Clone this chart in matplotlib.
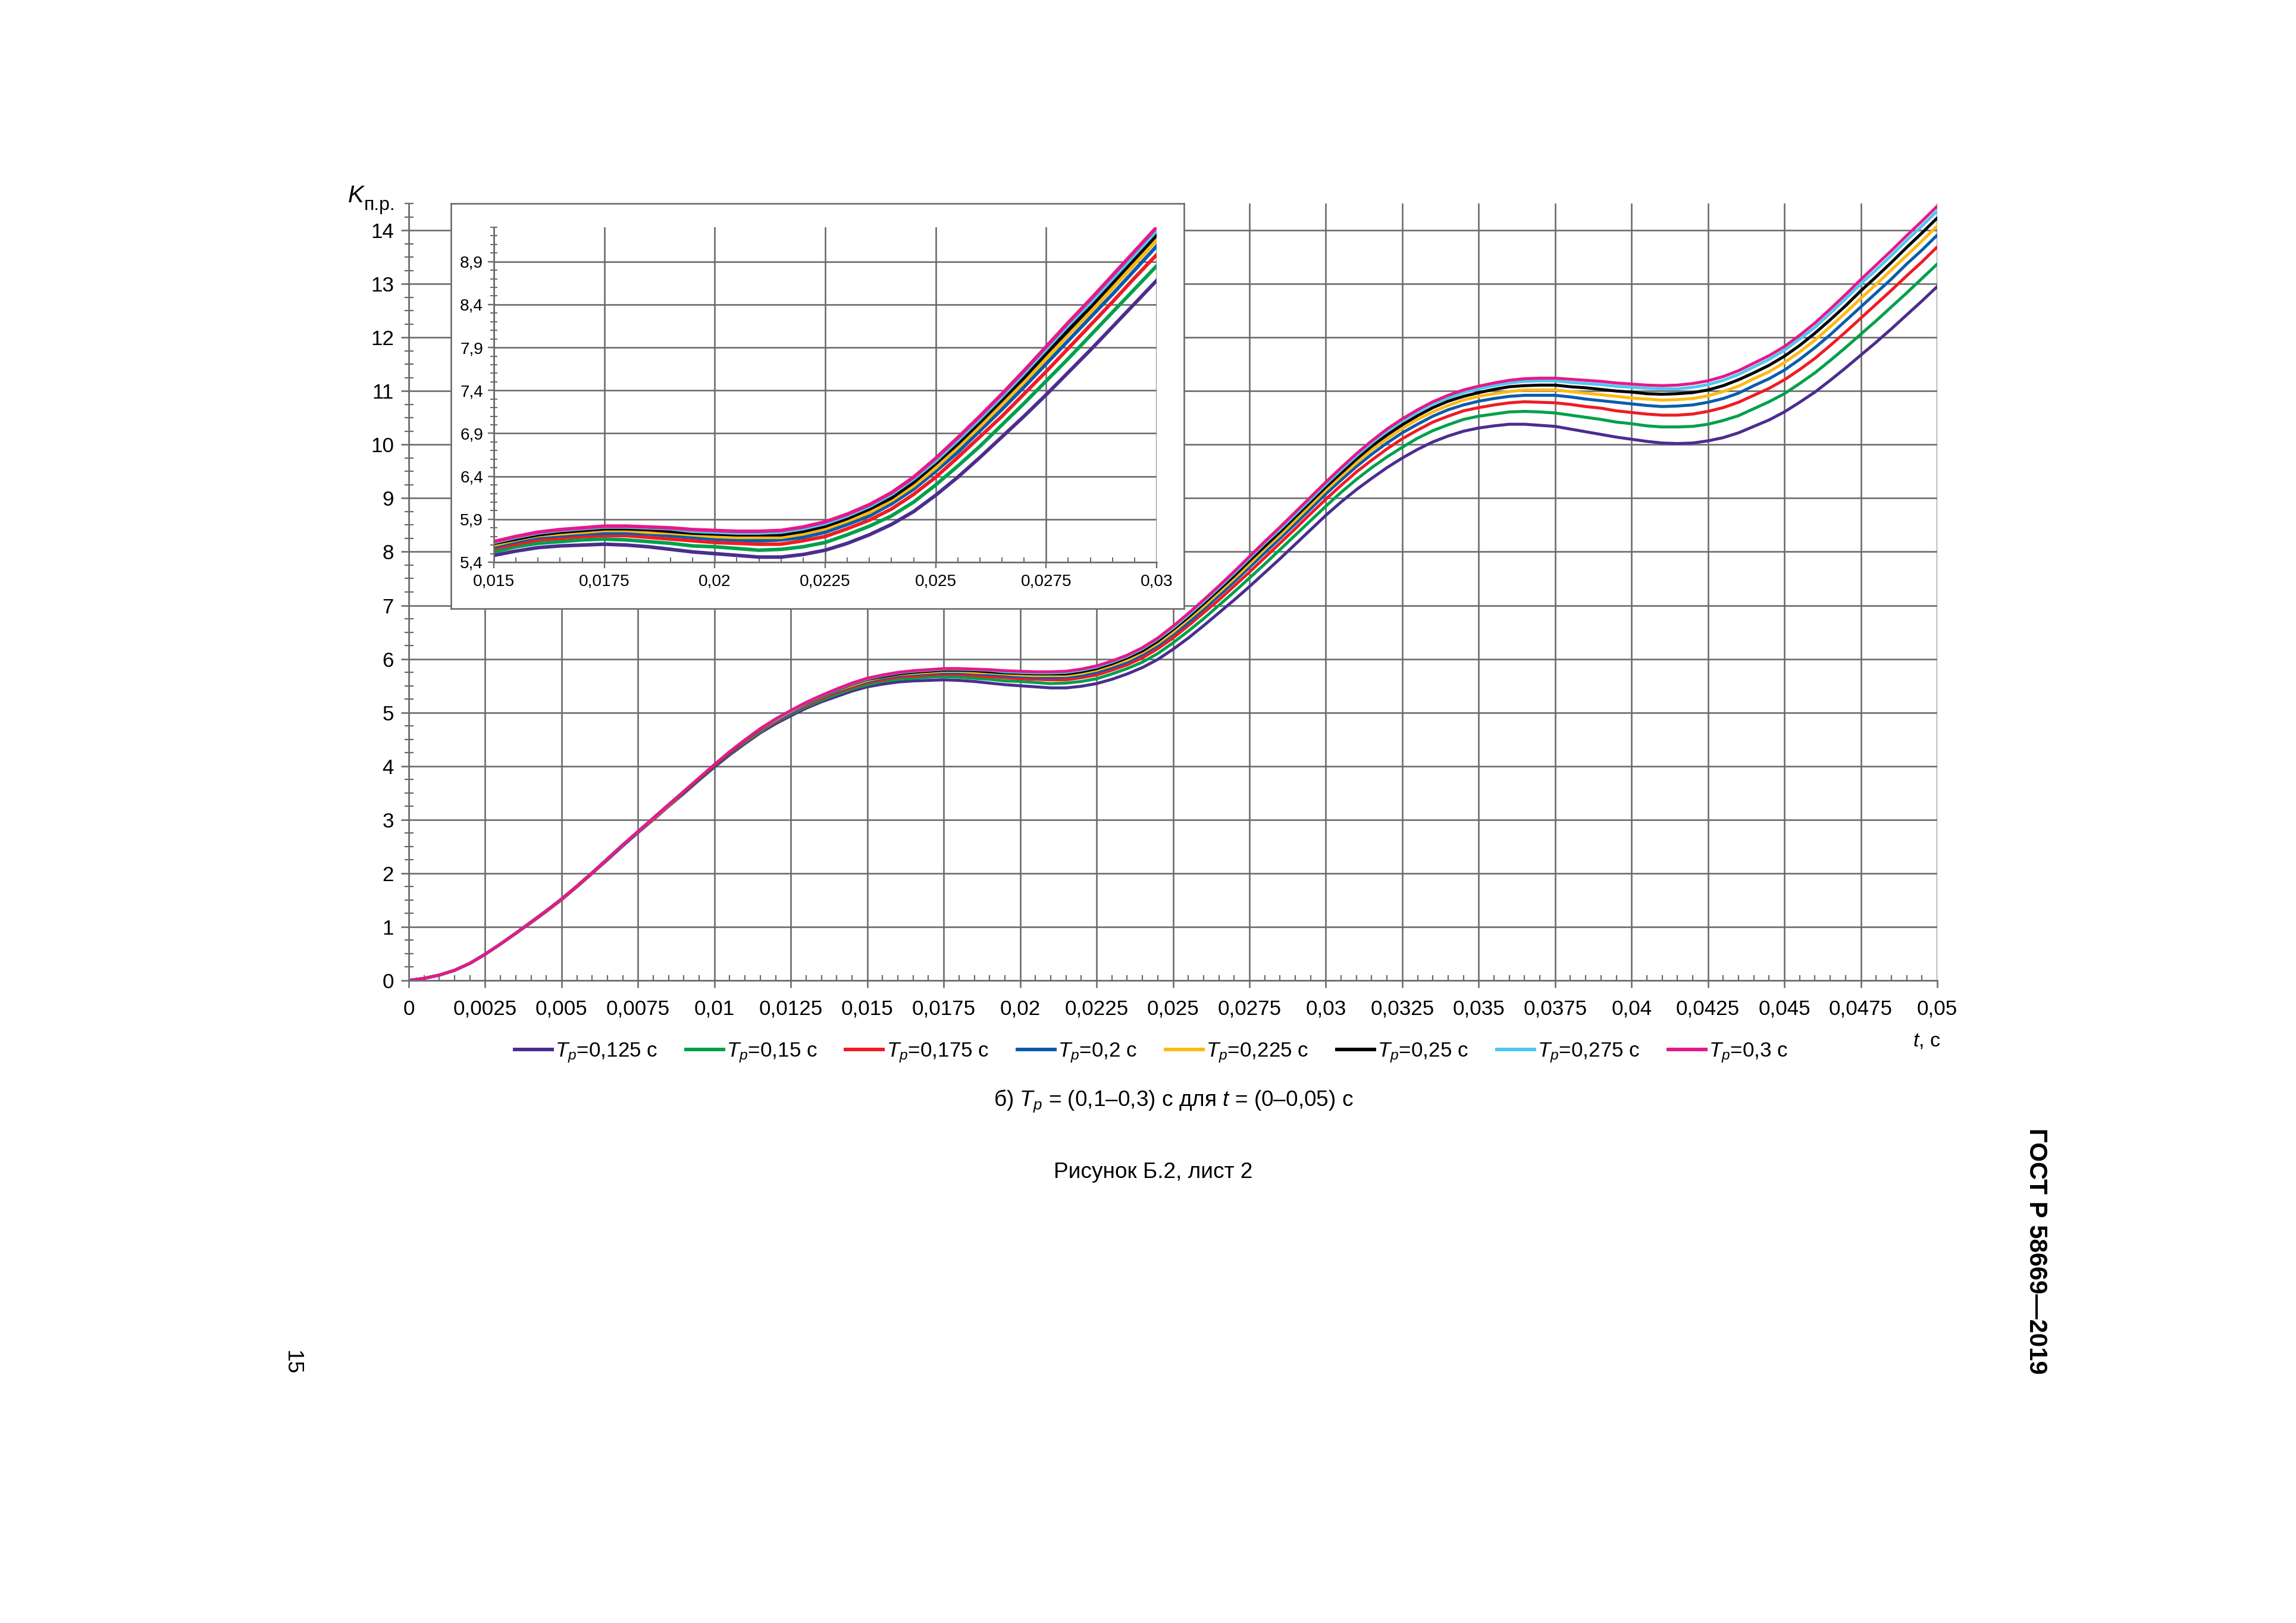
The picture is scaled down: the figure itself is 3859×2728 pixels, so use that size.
import numpy as np
import matplotlib
matplotlib.use("Agg")
import matplotlib.pyplot as plt
from matplotlib.ticker import MultipleLocator, FixedLocator, FuncFormatter

plt.rcParams['font.family'] = ['Liberation Sans', 'DejaVu Sans']
plt.rcParams['mathtext.fontset'] = 'custom'
plt.rcParams['mathtext.rm'] = 'Liberation Sans'
plt.rcParams['mathtext.it'] = 'Liberation Sans:italic'
plt.rcParams['mathtext.bf'] = 'Liberation Sans:bold'

# time, s (read every 0.0005 s)
t = np.linspace(0, 0.05, 101)

k_0125 = [0, .04, .10, .19, .32, .49, .68, .88, 1.08, 1.29,
          1.51, 1.75, 2.00, 2.25, 2.51, 2.76, 3.00, 3.25, 3.49, 3.74,
          3.98, 4.21, 4.42, 4.62, 4.79, 4.94, 5.08, 5.20, 5.30, 5.40,
          5.48, 5.53, 5.57, 5.59, 5.60, 5.61, 5.60, 5.58, 5.55, 5.52,
          5.50, 5.48, 5.46, 5.46, 5.49, 5.54, 5.62, 5.72, 5.84, 5.99,
          6.18, 6.39, 6.62, 6.86, 7.10, 7.35, 7.61, 7.87, 8.14, 8.41,
          8.68, 8.93, 9.16, 9.37, 9.57, 9.75, 9.91, 10.05, 10.16, 10.25,
          10.31, 10.35, 10.38, 10.38, 10.36, 10.34, 10.29, 10.24, 10.19, 10.14,
          10.10, 10.06, 10.03, 10.02, 10.03, 10.07, 10.13, 10.22, 10.34, 10.46,
          10.61, 10.79, 10.98, 11.20, 11.43, 11.67, 11.91, 12.16, 12.42, 12.68,
          12.95]
k_015 = [0, .04, .10, .19, .32, .49, .68, .88, 1.08, 1.29,
         1.51, 1.75, 2.00, 2.26, 2.52, 2.77, 3.01, 3.26, 3.50, 3.75,
         3.99, 4.23, 4.44, 4.64, 4.82, 4.97, 5.11, 5.23, 5.34, 5.44,
         5.52, 5.58, 5.62, 5.64, 5.66, 5.67, 5.66, 5.64, 5.62, 5.59,
         5.58, 5.56, 5.54, 5.55, 5.58, 5.63, 5.72, 5.82, 5.94, 6.10,
         6.30, 6.52, 6.75, 7.00, 7.25, 7.51, 7.77, 8.04, 8.31, 8.58,
         8.85, 9.11, 9.35, 9.57, 9.77, 9.95, 10.12, 10.26, 10.37, 10.47,
         10.53, 10.57, 10.61, 10.62, 10.61, 10.59, 10.55, 10.51, 10.47, 10.42,
         10.39, 10.35, 10.33, 10.33, 10.34, 10.38, 10.45, 10.54, 10.67, 10.80,
         10.95, 11.14, 11.34, 11.57, 11.81, 12.06, 12.31, 12.57, 12.83, 13.10,
         13.37]
k_0175 = [0, .04, .10, .19, .32, .49, .68, .88, 1.08, 1.29,
          1.51, 1.75, 2.00, 2.26, 2.52, 2.77, 3.01, 3.26, 3.51, 3.76,
          4.00, 4.24, 4.45, 4.66, 4.83, 4.99, 5.13, 5.26, 5.37, 5.47,
          5.56, 5.61, 5.66, 5.68, 5.70, 5.71, 5.71, 5.69, 5.67, 5.65,
          5.63, 5.62, 5.61, 5.61, 5.65, 5.70, 5.79, 5.89, 6.02, 6.19,
          6.39, 6.62, 6.86, 7.10, 7.36, 7.62, 7.89, 8.16, 8.43, 8.71,
          8.98, 9.24, 9.49, 9.71, 9.92, 10.11, 10.27, 10.42, 10.53, 10.63,
          10.69, 10.74, 10.78, 10.80, 10.79, 10.78, 10.75, 10.71, 10.68, 10.63,
          10.60, 10.57, 10.55, 10.55, 10.57, 10.62, 10.69, 10.79, 10.92, 11.05,
          11.21, 11.40, 11.61, 11.85, 12.10, 12.36, 12.62, 12.88, 13.15, 13.41,
          13.69]
k_02 = [0, .04, .10, .19, .32, .49, .68, .88, 1.09, 1.30,
        1.52, 1.76, 2.01, 2.26, 2.52, 2.77, 3.02, 3.27, 3.52, 3.77,
        4.01, 4.25, 4.46, 4.67, 4.85, 5.00, 5.15, 5.28, 5.39, 5.50,
        5.58, 5.64, 5.69, 5.71, 5.73, 5.74, 5.74, 5.73, 5.71, 5.69,
        5.67, 5.66, 5.65, 5.66, 5.69, 5.75, 5.84, 5.94, 6.08, 6.25,
        6.46, 6.68, 6.93, 7.18, 7.44, 7.71, 7.98, 8.25, 8.52, 8.80,
        9.08, 9.34, 9.59, 9.82, 10.03, 10.22, 10.38, 10.53, 10.65, 10.74,
        10.81, 10.86, 10.90, 10.92, 10.92, 10.92, 10.89, 10.85, 10.82, 10.79,
        10.76, 10.73, 10.71, 10.72, 10.74, 10.79, 10.86, 10.96, 11.10, 11.23,
        11.39, 11.59, 11.81, 12.05, 12.31, 12.57, 12.83, 13.09, 13.37, 13.63,
        13.91]
k_0225 = [0, .04, .10, .19, .32, .49, .68, .88, 1.09, 1.30,
          1.52, 1.76, 2.01, 2.27, 2.53, 2.78, 3.02, 3.27, 3.52, 3.77,
          4.02, 4.26, 4.47, 4.68, 4.86, 5.02, 5.16, 5.29, 5.41, 5.51,
          5.60, 5.66, 5.71, 5.73, 5.75, 5.77, 5.77, 5.75, 5.74, 5.72,
          5.70, 5.69, 5.69, 5.69, 5.73, 5.79, 5.88, 5.98, 6.12, 6.29,
          6.50, 6.74, 6.98, 7.24, 7.50, 7.77, 8.05, 8.31, 8.59, 8.87,
          9.15, 9.41, 9.66, 9.90, 10.11, 10.30, 10.47, 10.61, 10.73, 10.83,
          10.90, 10.95, 10.99, 11.02, 11.02, 11.02, 10.99, 10.96, 10.93, 10.90,
          10.87, 10.85, 10.83, 10.84, 10.86, 10.91, 10.99, 11.09, 11.23, 11.36,
          11.53, 11.73, 11.95, 12.20, 12.46, 12.73, 12.99, 13.26, 13.53, 13.80,
          14.08]
k_025 = [0, .04, .10, .19, .32, .49, .68, .88, 1.09, 1.30,
         1.52, 1.76, 2.01, 2.27, 2.53, 2.78, 3.03, 3.28, 3.52, 3.77,
         4.02, 4.26, 4.48, 4.69, 4.87, 5.03, 5.17, 5.30, 5.42, 5.53,
         5.62, 5.67, 5.72, 5.75, 5.77, 5.79, 5.79, 5.78, 5.76, 5.74,
         5.73, 5.72, 5.72, 5.72, 5.76, 5.82, 5.91, 6.02, 6.15, 6.33,
         6.55, 6.78, 7.03, 7.29, 7.55, 7.83, 8.10, 8.37, 8.65, 8.93,
         9.21, 9.47, 9.73, 9.97, 10.18, 10.37, 10.54, 10.69, 10.81, 10.90,
         10.97, 11.03, 11.08, 11.10, 11.11, 11.11, 11.08, 11.06, 11.03, 11.00,
         10.98, 10.95, 10.94, 10.95, 10.97, 11.02, 11.10, 11.21, 11.34, 11.48,
         11.65, 11.85, 12.08, 12.33, 12.59, 12.87, 13.13, 13.40, 13.68, 13.95,
         14.23]
k_0275 = [0, .04, .10, .19, .32, .49, .68, .88, 1.09, 1.30,
          1.52, 1.76, 2.01, 2.27, 2.53, 2.78, 3.03, 3.28, 3.53, 3.78,
          4.03, 4.27, 4.49, 4.70, 4.87, 5.03, 5.18, 5.31, 5.43, 5.54,
          5.63, 5.69, 5.74, 5.77, 5.79, 5.81, 5.81, 5.80, 5.79, 5.76,
          5.75, 5.74, 5.74, 5.75, 5.79, 5.85, 5.94, 6.05, 6.19, 6.37,
          6.58, 6.82, 7.07, 7.33, 7.60, 7.88, 8.16, 8.42, 8.70, 8.98,
          9.26, 9.53, 9.79, 10.03, 10.25, 10.44, 10.61, 10.76, 10.87, 10.97,
          11.04, 11.10, 11.15, 11.18, 11.19, 11.19, 11.16, 11.14, 11.12, 11.09,
          11.07, 11.05, 11.04, 11.04, 11.07, 11.12, 11.20, 11.31, 11.45, 11.59,
          11.76, 11.97, 12.19, 12.45, 12.72, 13.00, 13.26, 13.53, 13.81, 14.08,
          14.36]
k_03 = [0, .04, .10, .19, .32, .49, .68, .88, 1.09, 1.30,
        1.52, 1.76, 2.01, 2.27, 2.53, 2.78, 3.03, 3.28, 3.53, 3.78,
        4.03, 4.27, 4.49, 4.70, 4.88, 5.04, 5.19, 5.32, 5.44, 5.55,
        5.64, 5.70, 5.75, 5.78, 5.80, 5.82, 5.82, 5.81, 5.80, 5.78,
        5.77, 5.76, 5.76, 5.77, 5.81, 5.87, 5.96, 6.07, 6.21, 6.39,
        6.61, 6.85, 7.10, 7.36, 7.63, 7.91, 8.19, 8.46, 8.74, 9.02,
        9.30, 9.57, 9.83, 10.07, 10.29, 10.48, 10.65, 10.80, 10.92, 11.02,
        11.09, 11.15, 11.20, 11.23, 11.24, 11.24, 11.22, 11.20, 11.18, 11.15,
        11.13, 11.11, 11.10, 11.11, 11.14, 11.19, 11.27, 11.38, 11.52, 11.66,
        11.83, 12.04, 12.27, 12.53, 12.80, 13.08, 13.35, 13.62, 13.90, 14.17,
        14.45]

series = [k_0125, k_015, k_0175, k_02, k_0225, k_025, k_0275, k_03]
labels = ['0,125', '0,15', '0,175', '0,2', '0,225', '0,25', '0,275', '0,3']
colors = ['#4b2d8f', '#00a04b', '#ee1c24', '#0b5cad', '#fdb913', '#000000', '#4dc8f0', '#e5198a']

W, H = 3859, 2728
DPI = 100
PT = 72.0 / DPI  # points per pixel
GRID = '#6a6a6a'


def box(x0, y0, x1, y1):
    # pixel box (top-left origin) -> figure fraction rect
    return [x0 / W, 1 - y1 / H, (x1 - x0) / W, (y1 - y0) / H]


def comma(v, pos=None):
    return f"{v:g}".replace('.', ',')


fig = plt.figure(figsize=(W / DPI, H / DPI), dpi=DPI)

# main chart
ax = fig.add_axes(box(687, 342, 3256, 1648))
ax.set_xlim(0, 0.05)
ax.set_ylim(0, 14.5)
for k, c in zip(series, colors):
    ax.plot(t, k, color=c, lw=5 * PT, solid_capstyle='round', solid_joinstyle='round')

for s in ['top', 'right']:
    ax.spines[s].set_visible(False)
for s in ['left', 'bottom']:
    ax.spines[s].set_color(GRID)
    ax.spines[s].set_linewidth(2.6 * PT)

ax.xaxis.set_major_locator(FixedLocator(np.arange(0, 0.05001, 0.0025)))
ax.xaxis.set_minor_locator(MultipleLocator(0.0005))
ax.yaxis.set_major_locator(MultipleLocator(1))
ax.yaxis.set_minor_locator(MultipleLocator(0.25))
ax.xaxis.set_major_formatter(FuncFormatter(comma))
ax.yaxis.set_major_formatter(FuncFormatter(comma))
ax.grid(True, which='major', color=GRID, lw=2.6 * PT)
ax.set_axisbelow(True)
ax.tick_params(axis='x', which='major', direction='out', length=12 * PT, width=2.6 * PT,
               color=GRID, labelsize=35 * PT, pad=20 * PT)
ax.tick_params(axis='x', which='minor', direction='in', length=9 * PT, width=2.2 * PT, color=GRID)
ax.tick_params(axis='y', which='major', direction='out', length=13 * PT, width=2.6 * PT,
               color=GRID, labelsize=35 * PT, pad=12 * PT)
ax.tick_params(axis='y', which='minor', direction='inout', length=15 * PT, width=2.2 * PT, color=GRID)

# inset frame
fr = fig.add_axes(box(758, 342, 1990, 1023), zorder=3)
fr.set_xticks([])
fr.set_yticks([])
fr.set_facecolor('white')
for s in fr.spines.values():
    s.set_color(GRID)
    s.set_linewidth(2.6 * PT)

# inset chart
ins = fig.add_axes(box(830, 382, 1944, 945), zorder=4)
ins.patch.set_alpha(0)
ins.set_xlim(0.015, 0.03)
ins.set_ylim(5.4, 9.3)
for k, c in zip(series, colors):
    ins.plot(t, k, color=c, lw=6 * PT, solid_joinstyle='round')
for s in ['top', 'right']:
    ins.spines[s].set_visible(False)
for s in ['left', 'bottom']:
    ins.spines[s].set_color(GRID)
    ins.spines[s].set_linewidth(2.6 * PT)
ins.xaxis.set_major_locator(FixedLocator(np.arange(0.015, 0.03001, 0.0025)))
ins.xaxis.set_minor_locator(MultipleLocator(0.0005))
ins.yaxis.set_major_locator(FixedLocator(np.arange(5.4, 8.91, 0.5)))
ins.yaxis.set_minor_locator(FixedLocator(np.arange(5.4, 9.31, 0.1)))
ins.xaxis.set_major_formatter(FuncFormatter(comma))
ins.yaxis.set_major_formatter(FuncFormatter(comma))
ins.grid(True, which='major', color=GRID, lw=2.6 * PT)
ins.set_axisbelow(True)
ins.tick_params(axis='x', which='major', direction='out', length=10 * PT, width=2.4 * PT,
                color=GRID, labelsize=28 * PT, pad=10 * PT)
ins.tick_params(axis='x', which='minor', direction='in', length=8 * PT, width=2 * PT, color=GRID)
ins.tick_params(axis='y', which='major', direction='out', length=10 * PT, width=2.4 * PT,
                color=GRID, labelsize=28 * PT, pad=8 * PT)
ins.tick_params(axis='y', which='minor', direction='inout', length=12 * PT, width=2 * PT, color=GRID)

# axis titles
fig.text(585 / W, 1 - 340 / H, 'K', fontsize=40 * PT, style='italic', va='baseline', ha='left')
fig.text(612 / W, 1 - 353 / H, 'п.р.', fontsize=32 * PT, va='baseline', ha='left')
fig.text(3262 / W, 1 - 1750 / H, r'$t$, с', fontsize=34 * PT, va='center', ha='right')

# legend
handles = [plt.Line2D([], [], color=c, lw=6 * PT) for c in colors]
fig.legend(handles, [r'$T_p$=' + lab + ' с' for lab in labels], ncol=8,
           loc='center', bbox_to_anchor=(1935 / W, 1 - 1770 / H), frameon=False,
           fontsize=35 * PT, handlelength=1.8, handletextpad=0.15, columnspacing=1.36,
           borderaxespad=0, borderpad=0)

fig.text(1972 / W, 1 - 1851 / H, r'б) $T_p$ = (0,1–0,3) с для $t$ = (0–0,05) с',
         fontsize=37 * PT, ha='center', va='center')
fig.text(1938 / W, 1 - 1970 / H, 'Рисунок Б.2, лист 2', fontsize=37 * PT, ha='center', va='center')
fig.text(491 / W, 1 - 2290 / H, '15', fontsize=37 * PT, rotation=-90, ha='center', va='center')
fig.text(3422 / W, 1 - 2103 / H, 'ГОСТ Р 58669—2019', fontsize=42 * PT, rotation=-90,
         weight='bold', ha='center', va='center')

fig.savefig('out.png', dpi=DPI, facecolor='white')
